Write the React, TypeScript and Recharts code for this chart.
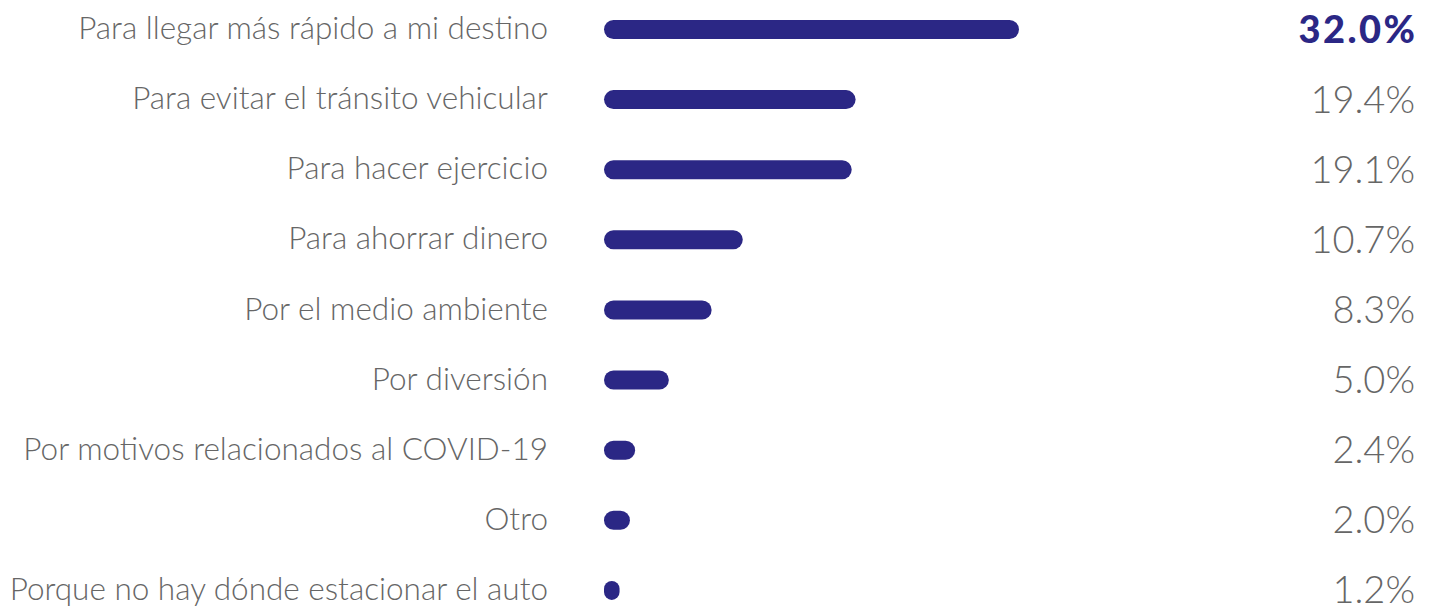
import { BarChart, Bar, XAxis, YAxis, LabelList } from 'recharts';

const categories = [
  'Para llegar más rápido a mi destino',
  'Para evitar el tránsito vehicular',
  'Para hacer ejercicio',
  'Para ahorrar dinero',
  'Por el medio ambiente',
  'Por diversión',
  'Por motivos relacionados al COVID-19',
  'Otro',
  'Porque no hay dónde estacionar el auto',
];
const values = [32.0, 19.4, 19.1, 10.7, 8.3, 5.0, 2.4, 2.0, 1.2];

const data = categories.map((name, i) => ({ name, value: values[i] }));

const BLUE = '#2b2785';
const GRAY = '#666666';
const FONT = 'Lato, sans-serif';

// pill shaped bar
const PillBar = (props: any) => {
  const { x, y, width, height, fill } = props;
  const r = Math.min(height / 2, width / 2);
  return <rect x={x} y={y} width={width} height={height} rx={r} ry={r} fill={fill} />;
};

const CategoryTick = (props: any) => {
  const { x, y, payload } = props;
  return (
    <text x={x} y={y} dy={10} textAnchor="end" fill={GRAY} fontFamily={FONT} fontWeight={300} fontSize={31.5}>
      {payload.value}
    </text>
  );
};

const ValueLabel = (props: any) => {
  const { y, height, value, index } = props;
  const first = index === 0;
  return (
    <text
      x={first ? 1417.5 : 1415}
      y={y + height / 2}
      dy={13}
      textAnchor="end"
      fill={first ? BLUE : GRAY}
      fontFamily={FONT}
      fontWeight={first ? 900 : 300}
      fontSize={38}
      letterSpacing={first ? 2.5 : 0}
    >
      {value.toFixed(1)}%
    </text>
  );
};

export default function App() {
  return (
    <div style={{ position: 'absolute', left: 0, top: 0, width: 1434, height: 607, overflow: 'hidden', background: '#fff' }}>
      <div style={{ position: 'absolute', left: 0, top: -6 }}>
        <BarChart
          width={1434}
          height={631}
          data={data}
          layout="vertical"
          margin={{ top: 0, right: 415, bottom: 0, left: 0 }}
        >
          <XAxis type="number" domain={[0, 32]} hide />
          <YAxis
            type="category"
            dataKey="name"
            width={604}
            axisLine={false}
            tickLine={false}
            tickSize={0}
            tickMargin={56}
            tick={<CategoryTick />}
            interval={0}
          />
          <Bar dataKey="value" fill={BLUE} barSize={19} shape={<PillBar />} isAnimationActive={false}>
            <LabelList dataKey="value" content={<ValueLabel />} />
          </Bar>
        </BarChart>
      </div>
    </div>
  );
}
